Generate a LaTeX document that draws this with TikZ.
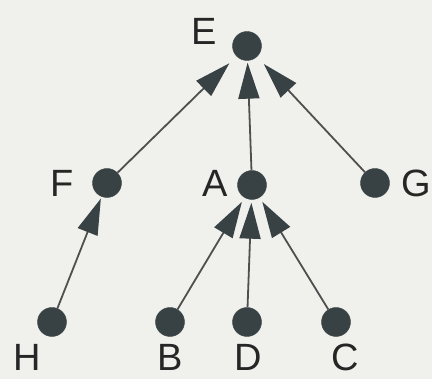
\documentclass[tikz,border=0pt]{standalone}
\usepackage{fontspec}
\setmainfont{Liberation Sans}
\usetikzlibrary{arrows.meta}
\definecolor{paper}{RGB}{240,240,236}
\definecolor{dotc}{RGB}{56,66,68}
\definecolor{linec}{RGB}{78,80,80}
\begin{document}
\begin{tikzpicture}[x=1pt,y=-1pt,
  dot/.style={circle,fill=dotc,draw=dotc,minimum size=29pt,inner sep=0pt},
  lbl/.style={anchor=base,inner sep=0pt,text=black!85,font=\fontsize{38}{40}\selectfont},
  edge/.style={draw=linec,line width=1.8pt,
    -{Triangle[length=36pt,width=21pt,fill=dotc,color=dotc]}}]
  \fill[paper] (0,0) rectangle (432,379);
  \useasboundingbox (0,0) rectangle (432,379);

  % vertices
  \node[dot] (E) at (247,46) {};
  \node[dot] (F) at (107,183) {};
  \node[dot] (A) at (252,185) {};
  \node[dot] (G) at (375,183) {};
  \node[dot] (H) at (52,322) {};
  \node[dot] (B) at (170,322) {};
  \node[dot] (D) at (247,322) {};
  \node[dot] (C) at (336,322) {};

  % vertex names
  \node[lbl] (lE) at (204,45) {E};
  \node[lbl] (lF) at (62,197) {F};
  \node[lbl] (lA) at (215,197) {A};
  \node[lbl] (lG) at (416,197) {G};
  \node[lbl] (lH) at (27,371) {H};
  \node[lbl] (lB) at (170,371) {B};
  \node[lbl] (lD) at (248,371) {D};
  \node[lbl] (lC) at (345,371) {C};

  % edges point from child to parent
  \draw[edge,shorten >=2pt] (H) -- (F);
  \draw[edge,shorten >=5pt] (B) -- (A);
  \draw[edge,shorten >=3pt] (D) -- (A);
  \draw[edge,shorten >=5pt] (C) -- (A);
  \draw[edge,shorten >=10pt] (F) -- (E);
  \draw[edge,shorten >=2pt] (A) -- (E);
  \draw[edge,shorten >=10pt] (G) -- (E);
\end{tikzpicture}
\end{document}
